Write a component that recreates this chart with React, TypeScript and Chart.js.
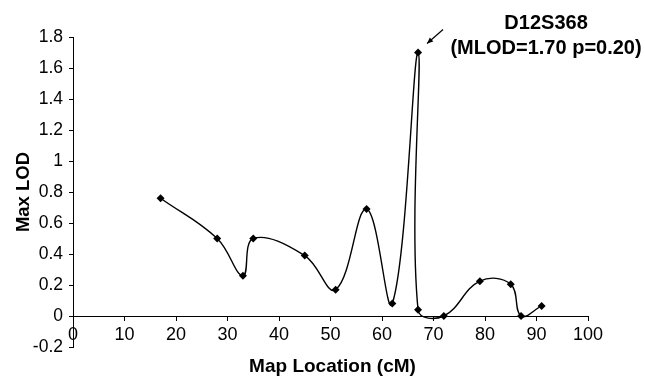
import React, { useEffect, useRef } from "react";
import { Chart, registerables } from "chart.js";

Chart.register(...registerables);

const mapLocations = [17, 28, 33, 35, 45, 51, 57, 62, 67, 67, 72, 79, 85, 87, 91];
const maxLod = [0.76, 0.5, 0.26, 0.5, 0.39, 0.17, 0.69, 0.08, 1.7, 0.04, 0.0, 0.225, 0.205, 0.0, 0.065];
const peakLabelLines = ["D12S368", "(MLOD=1.70 p=0.20)"];
const xTitle = "Map Location (cM)";
const yTitle = "Max LOD";

const FONT = "'Liberation Sans', Arial, sans-serif";

const overlayPlugin = {
  id: "overlay",
  afterDraw(chart: any) {
    const { ctx, chartArea, scales } = chart;
    ctx.save();
    ctx.fillStyle = "#000";
    ctx.strokeStyle = "#000";
    // axis titles
    ctx.font = `bold 19px ${FONT}`;
    ctx.textAlign = "center";
    ctx.textBaseline = "middle";
    ctx.fillText(xTitle, (chartArea.left + chartArea.right) / 2 + 2, 367);
    ctx.save();
    ctx.translate(24, (chartArea.top + chartArea.bottom) / 2);
    ctx.rotate(-Math.PI / 2);
    ctx.font = `bold 18.5px ${FONT}`;
    ctx.fillText(yTitle, 0, 0);
    ctx.restore();

    // peak annotation
    const peakIdx = maxLod.indexOf(Math.max(...maxLod));
    const px = scales.x.getPixelForValue(mapLocations[peakIdx]);
    const py = scales.y.getPixelForValue(maxLod[peakIdx]);
    const sx = px + 25, sy = py - 23;
    const ex = px + 9, ey = py - 9;
    ctx.lineWidth = 1.2;
    ctx.beginPath();
    ctx.moveTo(sx, sy);
    ctx.lineTo(ex, ey);
    ctx.stroke();
    const ang = Math.atan2(ey - sy, ex - sx);
    const hl = 6, hw = 2.6;
    ctx.beginPath();
    ctx.moveTo(ex, ey);
    ctx.lineTo(ex - hl * Math.cos(ang) + hw * Math.sin(ang), ey - hl * Math.sin(ang) - hw * Math.cos(ang));
    ctx.lineTo(ex - hl * Math.cos(ang) - hw * Math.sin(ang), ey - hl * Math.sin(ang) + hw * Math.cos(ang));
    ctx.closePath();
    ctx.fill();

    ctx.font = `bold 20px ${FONT}`;
    ctx.textAlign = "center";
    ctx.textBaseline = "alphabetic";
    const cx = px + 128;
    ctx.fillText(peakLabelLines[0], cx, py - 24);
    ctx.fillText(peakLabelLines[1], cx, py + 1);
    ctx.restore();
  },
};

export default function App() {
  const ref = useRef<HTMLCanvasElement>(null);
  useEffect(() => {
    if (!ref.current) return;
    const chart = new Chart(ref.current, {
      type: "line",
      data: {
        datasets: [
          {
            data: mapLocations.map((x, i) => ({ x, y: maxLod[i] })),
            borderColor: "#000",
            backgroundColor: "#000",
            borderWidth: 1.4,
            tension: 0.4,
            pointStyle: "rectRot",
            pointRadius: 4,
            pointBorderWidth: 0,
            fill: false,
          },
        ],
      },
      options: {
        animation: false,
        responsive: false,
        events: [],
        layout: { padding: { left: 0, top: 37, right: 57, bottom: 30 } },
        plugins: { legend: { display: false }, tooltip: { enabled: false } },
        scales: {
          x: {
            type: "linear",
            position: { y: 0 } as any,
            min: 0,
            max: 100,
            ticks: {
              stepSize: 10,
              color: "#000",
              font: { family: FONT, size: 18 },
              padding: 4,
              maxRotation: 0,
              autoSkip: false,
            },
            grid: { drawOnChartArea: false, drawTicks: true, tickLength: 4, color: "#000", lineWidth: 1 },
            border: { display: true, color: "#000", width: 1 },
          },
          y: {
            type: "linear",
            position: "left",
            min: -0.2,
            max: 1.8,
            afterFit: (s: any) => {
              s.width = 73;
            },
            ticks: {
              stepSize: 0.2,
              color: "#000",
              font: { family: FONT, size: 17.5 },
              padding: 6,
              callback: (v: any) => String(Number(Number(v).toFixed(1))),
            },
            grid: { drawOnChartArea: false, drawTicks: true, tickLength: 4, color: "#000", lineWidth: 1 },
            border: { display: true, color: "#000", width: 1 },
          },
        },
      },
      plugins: [overlayPlugin],
    });
    return () => chart.destroy();
  }, []);
  return (
    <div style={{ position: "absolute", left: 0, top: 0, width: 645, height: 377, background: "#fff" }}>
      <canvas ref={ref} width={645} height={377} style={{ display: "block" }} />
    </div>
  );
}
